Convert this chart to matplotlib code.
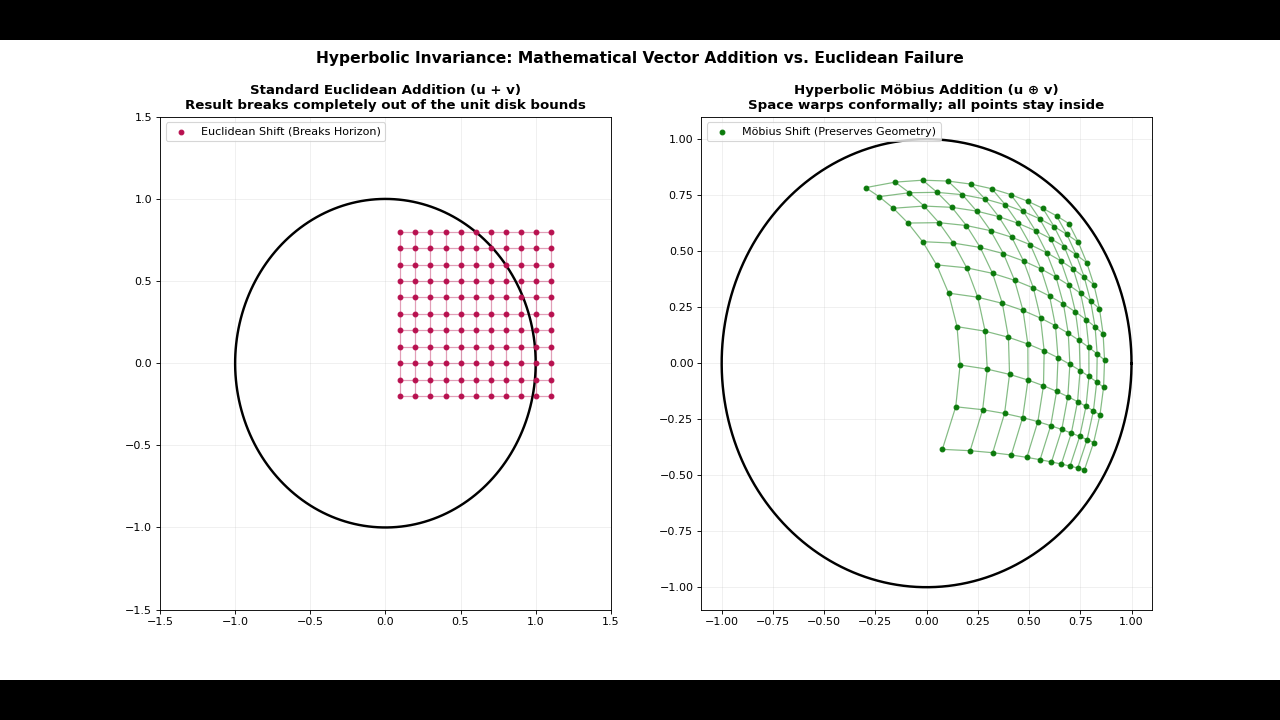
import numpy as np
import matplotlib
matplotlib.use("Agg")
import matplotlib.pyplot as plt
from matplotlib.patches import Rectangle

# Base grid (u) and shift vector (v)
grid_x = [-0.5, -0.4, -0.3, -0.2, -0.1, 0.0, 0.1, 0.2, 0.3, 0.4, 0.5]
grid_y = [-0.5, -0.4, -0.3, -0.2, -0.1, 0.0, 0.1, 0.2, 0.3, 0.4, 0.5]
shift_v = [0.6, 0.3]

left_ticks = [-1.5, -1.0, -0.5, 0.0, 0.5, 1.0, 1.5]
right_ticks = [-1.0, -0.75, -0.5, -0.25, 0.0, 0.25, 0.5, 0.75, 1.0]

euc_color = "#b8104f"
mob_color = "#0b7a0b"

UX, UY = np.meshgrid(np.array(grid_x), np.array(grid_y))
vx, vy = shift_v

# Euclidean addition u + v
EX, EY = UX + vx, UY + vy

# Moebius addition u (+) v
uv = UX * vx + UY * vy
uu = UX ** 2 + UY ** 2
vv = vx ** 2 + vy ** 2
den = 1 + 2 * uv + uu * vv
MX = ((1 + 2 * uv + vv) * UX + (1 - uu) * vx) / den
MY = ((1 + 2 * uv + vv) * UY + (1 - uu) * vy) / den

fig = plt.figure(figsize=(16, 9), dpi=80)
fig.patch.set_facecolor("black")
fig.add_artist(Rectangle((0, 40 / 720), 1, 640 / 720, transform=fig.transFigure,
                         facecolor="white", edgecolor="none", zorder=0))

bottom = (40 + 0.11 * 640) / 720
top = (40 + 0.88 * 640) / 720
w = 0.3522
ax1 = fig.add_axes([0.125, bottom, w, top - bottom])
ax2 = fig.add_axes([0.9 - w, bottom, w, top - bottom])

theta = np.linspace(0, 2 * np.pi, 400)

def draw_mesh(ax, X, Y, color, alpha):
    n, m = X.shape
    for i in range(n):
        ax.plot(X[i, :], Y[i, :], color=color, alpha=alpha, lw=1.1, zorder=2)
    for j in range(m):
        ax.plot(X[:, j], Y[:, j], color=color, alpha=alpha, lw=1.1, zorder=2)

# Left panel
ax1.plot(np.cos(theta), np.sin(theta), color="black", lw=2.2, zorder=3)
draw_mesh(ax1, EX, EY, euc_color, 0.4)
ax1.scatter(EX.ravel(), EY.ravel(), s=18, color=euc_color, zorder=4,
            label="Euclidean Shift (Breaks Horizon)")
ax1.set_xlim(-1.5, 1.5)
ax1.set_ylim(-1.5, 1.5)
ax1.set_xticks(left_ticks)
ax1.set_yticks(left_ticks)
ax1.grid(True, alpha=0.2)
ax1.set_title("Standard Euclidean Addition (u + v)\nResult breaks completely out of the unit disk bounds",
              fontsize=12, fontweight="bold", pad=7)
ax1.legend(loc="upper left")

# Right panel
ax2.plot(np.cos(theta), np.sin(theta), color="black", lw=2.2, zorder=3)
draw_mesh(ax2, MX, MY, mob_color, 0.5)
ax2.scatter(MX.ravel(), MY.ravel(), s=18, color=mob_color, zorder=4,
            label="Möbius Shift (Preserves Geometry)")
ax2.set_xlim(-1.1, 1.1)
ax2.set_ylim(-1.1, 1.1)
ax2.set_xticks(right_ticks)
ax2.set_yticks(right_ticks)
ax2.grid(True, alpha=0.2)
ax2.set_title("Hyperbolic Möbius Addition (u ⊕ v)\nSpace warps conformally; all points stay inside",
              fontsize=12, fontweight="bold", pad=7)
ax2.legend(loc="upper left")

fig.suptitle("Hyperbolic Invariance: Mathematical Vector Addition vs. Euclidean Failure",
             fontsize=14, fontweight="bold", y=(720 - 51) / 720)

fig.savefig("out.png", dpi=80, facecolor=fig.get_facecolor())
